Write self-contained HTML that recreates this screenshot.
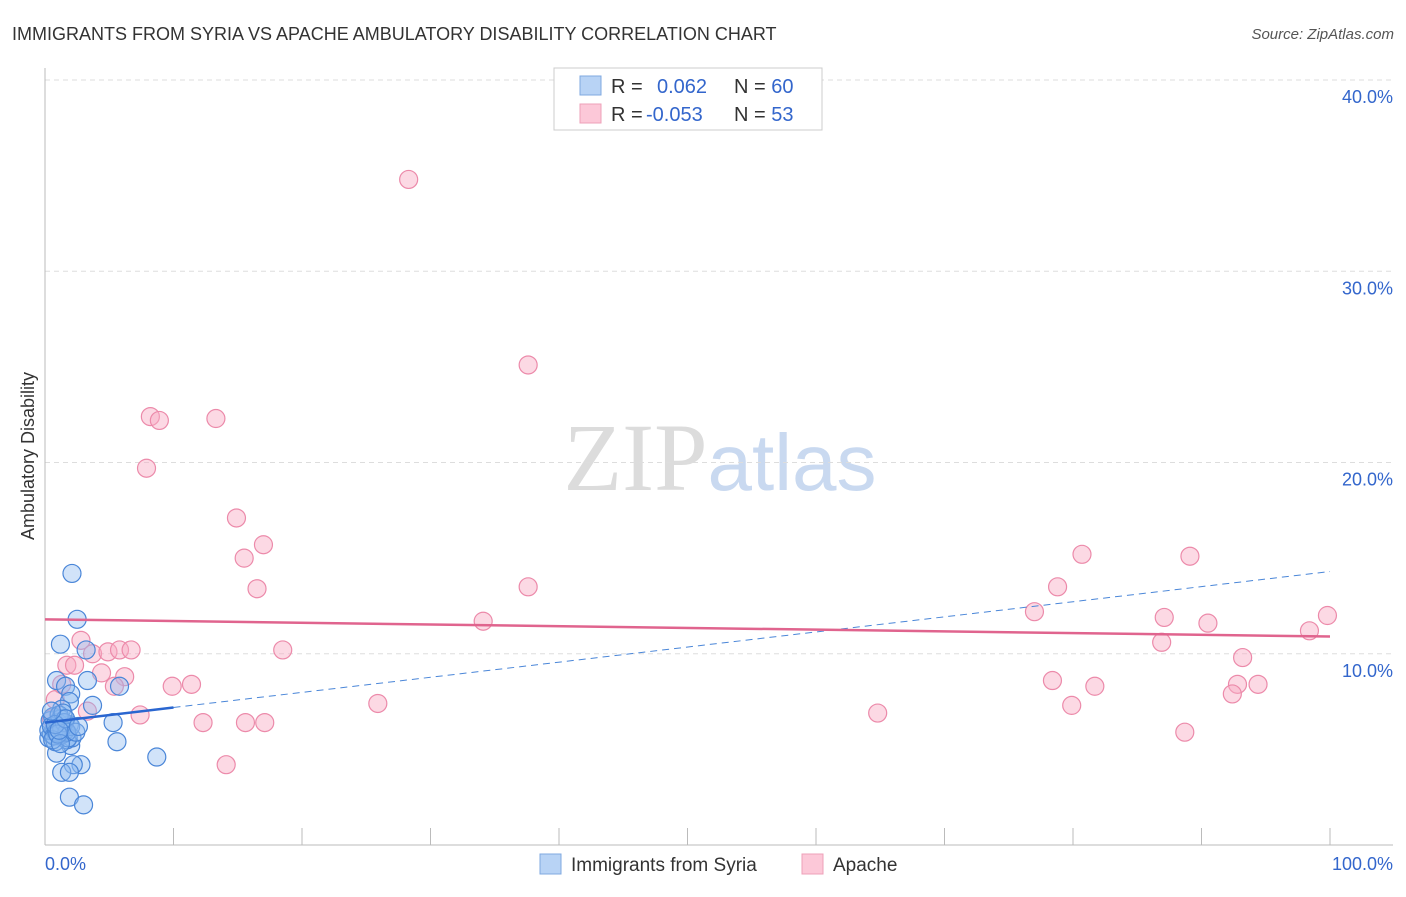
<!DOCTYPE html>
<html><head><meta charset="utf-8"><style>
body{margin:0;background:#fff;font-family:"Liberation Sans",sans-serif}
</style></head><body>
<svg id="chart" width="1406" height="892" xmlns="http://www.w3.org/2000/svg" font-family="Liberation Sans, sans-serif">
<text x="12" y="40" font-size="18" fill="#333">IMMIGRANTS FROM SYRIA VS APACHE AMBULATORY DISABILITY CORRELATION CHART</text>
<text x="1394" y="39" font-size="15" fill="#555" font-style="italic" text-anchor="end">Source: ZipAtlas.com</text>
<text x="720" y="490" font-size="96" text-anchor="middle"><tspan fill="#dcdcdc" font-family="Liberation Serif, serif">ZIP</tspan><tspan fill="#c9d9f0" font-size="80">atlas</tspan></text>
<g id="grid"></g>
<line x1="45" y1="68" x2="45" y2="845" stroke="#bbb"/>
<line x1="45" y1="845" x2="1393" y2="845" stroke="#bbb"/>
<g id="xticks"></g>
<text transform="translate(34,456) rotate(-90)" font-size="18" fill="#333" text-anchor="middle">Ambulatory Disability</text>
<text x="45" y="870" font-size="18" fill="#3366cc">0.0%</text>
<text x="1393" y="870" font-size="18" fill="#3366cc" text-anchor="end">100.0%</text>
<g id="marks"></g>
<g>
<rect x="554" y="68" width="268" height="62" fill="#fff" stroke="#ccc"/>
<rect x="580" y="76" width="21" height="19" fill="#b8d3f5" stroke="#7fa8e0"/>
<rect x="580" y="104" width="21" height="19" fill="#fcc8d8" stroke="#eea0b8"/>
<text x="611" y="93" font-size="20" fill="#333">R = <tspan fill="#3366cc" x="657">0.062</tspan><tspan x="734">N = </tspan><tspan fill="#3366cc">60</tspan></text>
<text x="611" y="121" font-size="20" fill="#333">R = <tspan fill="#3366cc" x="646">-0.053</tspan><tspan x="734">N = </tspan><tspan fill="#3366cc">53</tspan></text>
</g>
<g>
<rect x="540" y="854" width="21" height="20" fill="#b8d3f5" stroke="#7fa8e0"/>
<text x="571" y="871" font-size="19" fill="#333">Immigrants from Syria</text>
<rect x="802" y="854" width="21" height="20" fill="#fcc8d8" stroke="#eea0b8"/>
<text x="833" y="871" font-size="19" fill="#333">Apache</text>
</g>
</svg>
<script>
const yTicks=[10,20,30,40];
const yTickLabels=["10.0%","20.0%","30.0%","40.0%"];
const blueX=[2.1,2.5,1.2,3.2,3.3,0.9,1.6,2.0,5.8,3.7,1.9,1.3,5.3,5.6,8.7,2.0,2.1,2.8,2.2,1.3,1.9,1.9,3.0,0.9,
0.3,0.5,0.7,0.9,1.1,1.3,1.5,1.7,1.9,0.4,0.6,0.8,1.0,1.2,1.4,1.6,1.8,2.0,0.3,0.5,0.7,0.9,1.1,1.3,1.5,1.7,0.6,1.0,1.4,0.8,1.2,1.6,2.4,2.6,0.5,1.1];
const blueY=[14.2,11.8,10.5,10.2,8.6,8.6,8.3,7.9,8.3,7.3,7.5,7.1,6.4,5.4,4.6,5.2,5.6,4.2,4.2,3.8,3.8,2.5,2.1,4.8,
5.6,5.8,6.0,6.2,5.7,5.9,6.1,5.5,6.3,6.5,6.7,5.4,6.4,6.6,5.8,6.0,5.6,6.2,6.0,6.2,5.7,5.9,6.8,6.1,6.4,5.9,5.5,5.8,6.9,6.3,5.3,6.6,5.9,6.2,7.0,6.0];
const pinkX=[28.3,37.6,8.2,8.9,13.3,7.9,14.9,17.0,15.5,16.5,37.6,34.1,18.5,25.9,64.8,80.7,89.1,78.8,77.0,87.1,90.5,99.8,98.4,86.9,93.2,78.4,81.7,92.8,94.4,92.4,79.9,88.7,9.9,11.4,12.3,15.6,17.1,14.1,
2.8,3.7,4.9,5.8,6.7,1.7,2.3,4.4,6.2,5.4,7.4,3.3,0.8,1.3,0.5];
const pinkY=[34.8,25.1,22.4,22.2,22.3,19.7,17.1,15.7,15.0,13.4,13.5,11.7,10.2,7.4,6.9,15.2,15.1,13.5,12.2,11.9,11.6,12.0,11.2,10.6,9.8,8.6,8.3,8.4,8.4,7.9,7.3,5.9,8.3,8.4,6.4,6.4,6.4,4.2,
10.7,10.0,10.1,10.2,10.2,9.4,9.4,9.0,8.8,8.3,6.8,7.0,7.6,8.4,6.6];
const blueTrend=[6.4,14.3]; const blueSolidEnd=10;
const pinkTrend=[11.8,10.9];
const sx=v=>45+v*12.85, sy=v=>845-v*19.125;
const NS="http://www.w3.org/2000/svg";
function mk(tag,attrs,parent){const e=document.createElementNS(NS,tag);for(const k in attrs)e.setAttribute(k,attrs[k]);parent.appendChild(e);return e;}
const grid=document.getElementById('grid');
yTicks.forEach((t,i)=>{
 const l=mk('line',{x1:45,x2:1393,y1:sy(t),y2:sy(t),stroke:'#ddd','stroke-dasharray':'5,4'},grid);
 
 
 const tx=mk('text',{x:1393,y:sy(t)+23,'font-size':18,fill:'#3366cc','text-anchor':'end'},grid);
 tx.textContent=yTickLabels[i];
 
 
});
const xt=document.getElementById('xticks');
for(let i=1;i<=10;i++){const l=mk('line',{x1:sx(i*10),x2:sx(i*10),y1:828,y2:845,stroke:'#bbb'},xt);
 
 }
const marks=document.getElementById('marks');
pinkX.forEach((x,i)=>{const c=mk('circle',{cx:sx(x),cy:sy(pinkY[i]),r:9,fill:'rgba(248,170,196,0.45)',stroke:'#ec8aaa','stroke-width':1.2},marks);
 
 });
blueX.forEach((x,i)=>{const c=mk('circle',{cx:sx(x),cy:sy(blueY[i]),r:9,fill:'rgba(140,185,240,0.4)',stroke:'#4a86d8','stroke-width':1.2},marks);
 
 });
const by=x=>blueTrend[0]+(blueTrend[1]-blueTrend[0])*x/100;
let l=mk('line',{x1:sx(0),y1:sy(by(0)),x2:sx(blueSolidEnd),y2:sy(by(blueSolidEnd)),stroke:'#2a66d0','stroke-width':2.5},marks);


l=mk('line',{x1:sx(blueSolidEnd),y1:sy(by(blueSolidEnd)),x2:sx(100),y2:sy(by(100)),stroke:'#4a86d8','stroke-width':1,'stroke-dasharray':'7,5'},marks);


l=mk('line',{x1:sx(0),y1:sy(pinkTrend[0]),x2:sx(100),y2:sy(pinkTrend[1]),stroke:'#e0648e','stroke-width':2.5},marks);


</script>
</body></html>
